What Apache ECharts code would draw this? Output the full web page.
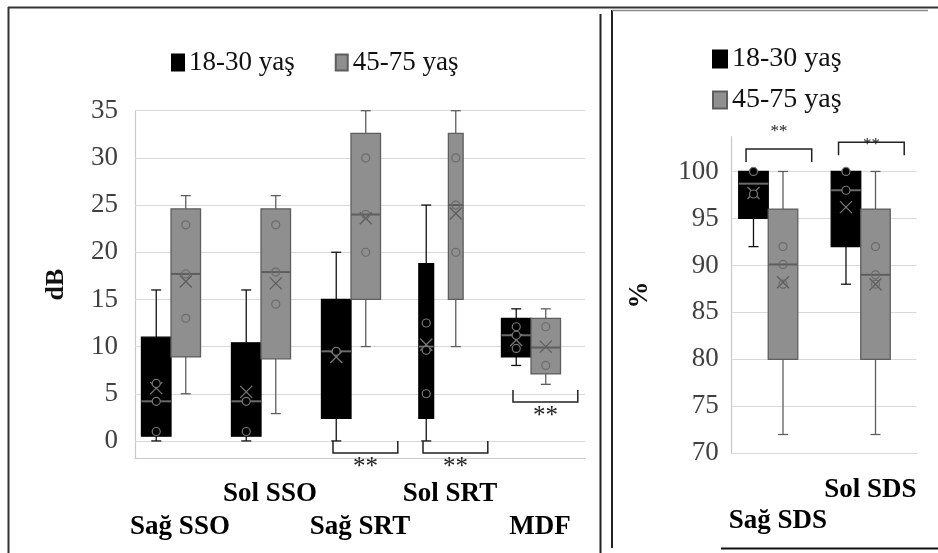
<!DOCTYPE html>
<html>
<head>
<meta charset="utf-8">
<script src="https://cdn.jsdelivr.net/npm/echarts@6/dist/echarts.min.js"></script>
<style>html,body{margin:0;padding:0;background:#fff;}#c{width:938px;height:553px;}</style>
</head>
<body>
<div id="c"></div>
<script>
// ---------- data ----------
const seriesNames = ['18-30 yaş', '45-75 yaş'];

const leftCategories = ['Sağ SSO', 'Sol SSO', 'Sağ SRT', 'Sol SRT', 'MDF'];
const leftTicks = [0, 5, 10, 15, 20, 25, 30, 35];
// [min, q1, median, q3, max]
const youngLeftBox = [[0, 0.5, 4.2, 11, 16], [0, 0.5, 4.2, 10.4, 16], [0, 2.4, 9.5, 15, 20], [0, 2.4, 10, 18.8, 25], [8, 8.9, 11.2, 13, 14]];
const youngLeftMean = [5.6, 5.2, 8.9, 10.2, 10.7];
const youngLeftPoints = [[1, 4.2, 6.1], [1, 4.2], [9.5], [12.5, 9.6, 5], [12.1, 11.2, 9.8]];
const oldLeftBox = [[5, 8.9, 17.7, 24.6, 26], [2.9, 8.7, 17.9, 24.6, 26], [10, 15, 24, 32.6, 35], [10, 15, 25, 32.6, 35], [6, 7.1, 9.9, 13, 14]];
const oldLeftMean = [16.9, 16.7, 23.6, 24.1, 10];
const oldLeftPoints = [[22.9, 17.7, 13], [22.9, 17.9, 14.5], [30, 24, 20], [30, 25, 20], [12.1, 8]];
const leftSigCategories = ['Sağ SRT', 'Sol SRT', 'MDF'];
const leftSigLevel = [0, 0, 5.4];

const rightCategories = ['Sağ SDS', 'Sol SDS'];
const rightTicks = [70, 75, 80, 85, 90, 95, 100];
const youngRightBox = [[92, 95, 98.7, 100, 100], [88, 92, 98, 100, 100]];
const youngRightMean = [97.7, 96.2];
const youngRightPoints = [[100, 97.6], [100, 98]];
const oldRightBox = [[72, 80, 90.1, 96, 100], [72, 80, 89, 96, 100]];
const oldRightMean = [88.2, 88];
const oldRightPoints = [[92, 90.1, 88], [92, 89, 88]];
const rightSigCategories = ['Sağ SDS', 'Sol SDS'];
const rightSigLevel = [102.4, 103.1];
const rightSigLabel = [104.5, 103.1];
const sigText = '**';

// ---------- styles ----------
const FONT = 'Liberation Serif';
const narrowCategories = ['Sol SRT'];
const styleYoung = { fill: '#000', border: '#000', whisker: '#111', median: '#6a6a6a', mean: '#777', ptStroke: '#777', ptFill: '#000' };
const styleOld = { fill: '#8f8f8f', border: '#5e5e5e', whisker: '#5e5e5e', median: '#5e5e5e', mean: '#5e5e5e', ptStroke: '#6a6a6a', ptFill: 'none' };

function boxSeries(name, axisIndex, cats, boxes, means, points, side, st, shiftFrac, boxFrac) {
  return {
    type: 'custom', name: name, xAxisIndex: axisIndex, yAxisIndex: axisIndex, z: 3, clip: false,
    itemStyle: { color: st.fill, borderColor: st.border, borderWidth: 1 },
    data: boxes.map((b, i) => [i].concat(b).concat([means[i]])),
    encode: { x: 0, y: [1, 2, 3, 4, 5] },
    renderItem: function (params, api) {
      const i = params.dataIndex;
      const cat = api.value(0);
      const mn = api.value(1), q1 = api.value(2), md = api.value(3), q3 = api.value(4), mx = api.value(5), mean = api.value(6);
      const band = api.size([1, 0])[0];
      const c = api.coord([cat, mn])[0] + band * shiftFrac;
      const w = band * boxFrac;
      const bw = narrowCategories.indexOf(cats[i]) >= 0 ? w / 2 : w;
      const bx = c + side * w / 2;
      const Y = v => api.coord([cat, v])[1];
      const ch = [];
      const ls = (col, wd) => ({ stroke: col, lineWidth: wd });
      ch.push({ type: 'line', shape: { x1: bx, y1: Y(mx), x2: bx, y2: Y(q3) }, style: ls(st.whisker, 1.3) });
      ch.push({ type: 'line', shape: { x1: bx, y1: Y(q1), x2: bx, y2: Y(mn) }, style: ls(st.whisker, 1.3) });
      ch.push({ type: 'line', shape: { x1: bx - 5, y1: Y(mx), x2: bx + 5, y2: Y(mx) }, style: ls(st.whisker, 1.3) });
      ch.push({ type: 'line', shape: { x1: bx - 5, y1: Y(mn), x2: bx + 5, y2: Y(mn) }, style: ls(st.whisker, 1.3) });
      ch.push({ type: 'rect', shape: { x: bx - bw / 2, y: Y(q3), width: bw, height: Y(q1) - Y(q3) }, style: { fill: st.fill, stroke: st.border, lineWidth: 1.3 } });
      ch.push({ type: 'line', shape: { x1: bx - bw / 2, y1: Y(md), x2: bx + bw / 2, y2: Y(md) }, style: ls(st.median, 2) });
      const ym = Y(mean);
      ch.push({ type: 'line', shape: { x1: bx - 6, y1: ym - 6, x2: bx + 6, y2: ym + 6 }, style: ls(st.mean, 1.3) });
      ch.push({ type: 'line', shape: { x1: bx - 6, y1: ym + 6, x2: bx + 6, y2: ym - 6 }, style: ls(st.mean, 1.3) });
      points[i].forEach(p => {
        ch.push({ type: 'circle', shape: { cx: bx, cy: Y(p), r: 4 }, style: { fill: st.ptFill, stroke: st.ptStroke, lineWidth: 1.2 } });
      });
      return { type: 'group', children: ch };
    }
  };
}

function gridSeries(axisIndex, ticks) {
  return {
    type: 'line', xAxisIndex: axisIndex, yAxisIndex: axisIndex, data: [], silent: true, z: 1,
    markLine: {
      silent: true, symbol: 'none', z: 1, label: { show: false },
      lineStyle: { color: '#d9d9d9', width: 1.2, type: 'solid' },
      emphasis: { disabled: true },
      data: ticks.map(v => ({ yAxis: v }))
    }
  };
}

const leftSigSeries = {
  type: 'custom', xAxisIndex: 0, yAxisIndex: 0, z: 4, clip: false, silent: true,
  data: leftSigCategories.map((c, i) => [leftCategories.indexOf(c), leftSigLevel[i]]),
  renderItem: function (params, api) {
    const p = api.coord([api.value(0), api.value(1)]);
    const band = api.size([1, 0])[0];
    const cx = p[0] + band * 0.06, h = band * 0.36, y = p[1], d = 12;
    return { type: 'group', children: [
      { type: 'polyline', shape: { points: [[cx - h, y], [cx - h, y + d], [cx + h, y + d], [cx + h, y]] }, style: { stroke: '#222', lineWidth: 1.5, fill: null } },
      { type: 'text', style: { x: cx, y: y + d + 1.5, text: sigText, fontFamily: FONT, fontSize: 25, fill: '#222', align: 'center', verticalAlign: 'top' } }
    ] };
  }
};

const rightSigSeries = {
  type: 'custom', xAxisIndex: 1, yAxisIndex: 1, z: 4, clip: false, silent: true,
  data: rightSigCategories.map((c, i) => [rightCategories.indexOf(c), rightSigLevel[i], rightSigLabel[i]]),
  renderItem: function (params, api) {
    const p = api.coord([api.value(0), api.value(1)]);
    const ly = api.coord([api.value(0), api.value(2)])[1];
    const band = api.size([1, 0])[0];
    const cx = p[0] + band * 0.01, h = band * 0.355, y = p[1], d = 13;
    return { type: 'group', children: [
      { type: 'polyline', shape: { points: [[cx - h, y + d], [cx - h, y], [cx + h, y], [cx + h, y + d]] }, style: { stroke: '#222', lineWidth: 1.5, fill: null } },
      { type: 'text', style: { x: cx, y: ly + 2, text: sigText, fontFamily: FONT, fontSize: 17, fill: '#222', align: 'center', verticalAlign: 'middle' } }
    ] };
  }
};

const tickLabel = { color: '#404040', fontFamily: FONT, fontSize: 27 };
const catLabel = { color: '#000', fontFamily: FONT, fontSize: 27, fontWeight: 'bold' };

const option = {
  animation: false,
  backgroundColor: '#fff',
  legend: [
    { data: seriesNames, left: 166, top: 44, icon: 'rect', itemWidth: 12, itemHeight: 16, itemGap: 40, selectedMode: false,
      textStyle: { color: '#111', fontFamily: FONT, fontSize: 27 } },
    { data: seriesNames, left: 707, top: 40, orient: 'vertical', icon: 'rect', itemWidth: 14, itemHeight: 17, itemGap: 13, selectedMode: false,
      textStyle: { color: '#111', fontFamily: FONT, fontSize: 28 } }
  ],
  grid: [
    { left: 135, right: 353, top: 110.7, bottom: 94.7 },
    { left: 731.7, right: 21.3, top: 136.7, bottom: 99.7 }
  ],
  xAxis: [
    { type: 'category', gridIndex: 0, data: leftCategories,
      axisLine: { onZero: false, lineStyle: { color: '#c8c8c8', width: 1.2 } }, axisTick: { show: false },
      axisLabel: Object.assign({ interval: 0, margin: 19, lineHeight: 33, formatter: (v, i) => i % 2 === 0 ? '\n' + v : v }, catLabel) },
    { type: 'category', gridIndex: 1, data: rightCategories,
      axisLine: { onZero: false, lineStyle: { color: '#c8c8c8', width: 1.2 } }, axisTick: { show: false },
      axisLabel: Object.assign({ interval: 0, margin: 21, lineHeight: 31, formatter: (v, i) => i % 2 === 0 ? '\n' + v : v }, catLabel) }
  ],
  yAxis: [
    { type: 'value', gridIndex: 0, min: -1.84, max: 35,
      axisLine: { show: true, lineStyle: { color: '#c8c8c8', width: 1.2 } }, axisTick: { show: false }, splitLine: { show: false },
      axisLabel: Object.assign({ customValues: leftTicks, margin: 17 }, tickLabel),
      name: 'dB', nameLocation: 'middle', nameRotate: 90, nameGap: 66,
      nameTextStyle: { fontFamily: FONT, fontWeight: 'bold', fontSize: 26, color: '#111' } },
    { type: 'value', gridIndex: 1, min: 70, max: 103.7,
      axisLine: { show: true, lineStyle: { color: '#c8c8c8', width: 1.2 } }, axisTick: { show: false }, splitLine: { show: false },
      axisLabel: Object.assign({ customValues: rightTicks, margin: 13 }, tickLabel),
      name: '%', nameLocation: 'middle', nameRotate: 90, nameGap: 78,
      nameTextStyle: { fontFamily: FONT, fontWeight: 'bold', fontSize: 27, color: '#111' } }
  ],
  graphic: [
    { type: 'line', silent: true, shape: { x1: 8.5, y1: 7, x2: 8.5, y2: 553 }, style: { stroke: '#333', lineWidth: 2 } },
    { type: 'line', silent: true, shape: { x1: 8, y1: 7.5, x2: 938, y2: 7.5 }, style: { stroke: '#333', lineWidth: 2 } },
    { type: 'line', silent: true, shape: { x1: 600.5, y1: 14, x2: 600.5, y2: 553 }, style: { stroke: '#222', lineWidth: 2 } },
    { type: 'line', silent: true, shape: { x1: 612, y1: 10, x2: 612, y2: 548 }, style: { stroke: '#222', lineWidth: 2 } },
    { type: 'line', silent: true, shape: { x1: 612, y1: 10.5, x2: 928, y2: 10.5 }, style: { stroke: '#888', lineWidth: 1.5 } },
    { type: 'line', silent: true, shape: { x1: 721, y1: 548.5, x2: 938, y2: 548.5 }, style: { stroke: '#111', lineWidth: 2 } }
  ],
  series: [
    gridSeries(0, leftTicks),
    gridSeries(1, rightTicks),
    boxSeries(seriesNames[0], 0, leftCategories, youngLeftBox, youngLeftMean, youngLeftPoints, -1, styleYoung, -0.1, 0.328),
    boxSeries(seriesNames[1], 0, leftCategories, oldLeftBox, oldLeftMean, oldLeftPoints, 1, styleOld, -0.1, 0.328),
    boxSeries(seriesNames[0], 1, rightCategories, youngRightBox, youngRightMean, youngRightPoints, -1, styleYoung, -0.105, 0.319),
    boxSeries(seriesNames[1], 1, rightCategories, oldRightBox, oldRightMean, oldRightPoints, 1, styleOld, -0.105, 0.319),
    leftSigSeries,
    rightSigSeries
  ]
};

const chart = echarts.init(document.getElementById('c'), null, { renderer: 'canvas' });
chart.setOption(option);
</script>
</body>
</html>
